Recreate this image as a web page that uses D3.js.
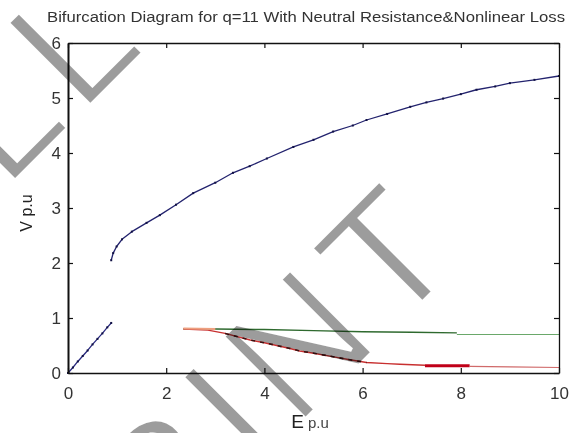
<!DOCTYPE html>
<html>
<head>
<meta charset="utf-8">
<script src="https://cdn.jsdelivr.net/npm/d3@7"></script>
<style>
  html, body { margin: 0; padding: 0; background: #fff; }
  svg { display: block; }
  text { font-family: "Liberation Sans", Arial, sans-serif; }
</style>
</head>
<body>
<svg id="chart" width="583" height="433"></svg>
<script>
// Axis ticks
const xTicks = [0, 2, 4, 6, 8, 10];
const yTicks = [0, 1, 2, 3, 4, 5, 6];

// Upper branch (blue)
const upperE = [0.88, 0.92, 0.99, 1.10, 1.30, 1.60, 1.87, 2.20, 2.55, 3.00, 3.36, 3.70, 4.05, 4.59, 5.00, 5.40, 5.80, 6.08, 6.50, 6.97, 7.30, 7.64, 8.00, 8.32, 8.70, 9.00, 9.50, 10.00];
const upperV = [2.05, 2.18, 2.30, 2.43, 2.57, 2.73, 2.87, 3.06, 3.27, 3.46, 3.64, 3.76, 3.90, 4.11, 4.24, 4.39, 4.50, 4.60, 4.71, 4.84, 4.92, 4.99, 5.07, 5.15, 5.21, 5.27, 5.33, 5.40];

// Lower branch near the origin (blue)
const lowE = [0.00, 0.10, 0.20, 0.30, 0.40, 0.50, 0.60, 0.70, 0.80, 0.88];
const lowV = [0.00, 0.10, 0.21, 0.31, 0.41, 0.52, 0.62, 0.72, 0.83, 0.91];

// Shared start of the low-voltage branches
const startE = [2.35, 3.00];
const startV = [0.81, 0.80];

// Green branch
const greenE = [2.35, 3.00, 4.00, 5.00, 6.00, 7.00, 7.92];
const greenV = [0.80, 0.80, 0.79, 0.77, 0.75, 0.74, 0.73];
const greenTailE = [7.92, 10.00];
const greenTailV = [0.70, 0.70];

// Red branch
const redE = [2.35, 2.85, 3.20, 3.71, 4.00, 4.50, 4.72, 5.00, 5.50, 5.74, 6.08, 6.50, 6.76, 7.27];
const redV = [0.80, 0.78, 0.72, 0.60, 0.55, 0.45, 0.40, 0.36, 0.28, 0.24, 0.19, 0.17, 0.16, 0.14];
const redBarE = [7.27, 8.18];
const redBarV = [0.13, 0.13];
const redTailE = [8.18, 9.00, 10.00];
const redTailV = [0.12, 0.11, 0.10];

const svg = d3.select("#chart");
const x = d3.scaleLinear().domain([0, 10]).range([68, 559]);
const y = d3.scaleLinear().domain([0, 6]).range([373, 43]);

const pts = (es, vs) => es.map((e, i) => [e, vs[i]]);
const line = d3.line().x(d => x(d[0])).y(d => y(d[1]));

// plot background
svg.append("rect").attr("x", x(0)).attr("y", y(6))
  .attr("width", x(10) - x(0)).attr("height", y(0) - y(6)).attr("fill", "#fff");

const plot = svg.append("g");

function drawLine(data, color, width) {
  plot.append("path").datum(data)
    .attr("d", line).attr("fill", "none")
    .attr("stroke", color).attr("stroke-width", width)
    .attr("stroke-linejoin", "round");
}
function drawDots(data, color, size) {
  plot.selectAll(null).data(data).enter().append("rect")
    .attr("x", d => x(d[0]) - size / 2).attr("y", d => y(d[1]) - size / 2)
    .attr("width", size).attr("height", size).attr("fill", color);
}

// blue branches
drawLine(pts(upperE, upperV), "#23236e", 1.3);
drawDots(pts(upperE, upperV), "#111144", 2);
drawLine(pts(lowE, lowV), "#2a2a80", 1.3);
drawDots(pts(lowE, lowV), "#111144", 2);

// green branch
drawLine(pts(greenE, greenV), "#2f6a2f", 1.4);
drawLine(pts(greenTailE, greenTailV), "#6aa86a", 1.2);

// red branch
drawLine(pts(redE, redV), "#c83030", 1.4);
const darkPart = pts(redE, redV).filter(d => d[0] >= 3.0 && d[0] <= 6.2);
plot.append("path").datum(darkPart)
  .attr("d", line).attr("fill", "none")
  .attr("stroke", "#3a1010").attr("stroke-width", 1.6)
  .attr("stroke-dasharray", "4,5");
drawLine(pts(redBarE, redBarV), "#c00018", 3);
drawLine(pts(redTailE, redTailV), "#d06a6a", 1.2);

// shared start segment
drawLine(pts(startE, startV), "#eea080", 2);

// axes
const axisColor = "#111";
const fmt = d3.format("d");
function styleAxis(g, showLabels) {
  g.selectAll(".domain").attr("stroke", axisColor).attr("stroke-width", 1.3);
  g.selectAll(".tick line").attr("stroke", axisColor).attr("stroke-width", 1.2);
  g.selectAll(".tick text")
    .attr("fill", "#333")
    .style("font-size", "17px")
    .style("display", showLabels ? null : "none");
}

svg.append("g").attr("transform", `translate(0,${y(0)})`)
  .call(d3.axisBottom(x).tickValues(xTicks).tickFormat(fmt).tickSizeInner(-5).tickSizeOuter(0).tickPadding(14))
  .call(g => styleAxis(g, true));
svg.append("g").attr("transform", `translate(0,${y(6)})`)
  .call(d3.axisTop(x).tickValues(xTicks).tickSizeInner(-5).tickSizeOuter(0))
  .call(g => styleAxis(g, false));
svg.append("g").attr("transform", `translate(${x(0)},0)`)
  .call(d3.axisLeft(y).tickValues(yTicks).tickFormat(fmt).tickSizeInner(-5).tickSizeOuter(0).tickPadding(7))
  .call(g => styleAxis(g, true))
  .call(g => g.select(".domain").attr("stroke-width", 2));
svg.append("g").attr("transform", `translate(${x(10)},0)`)
  .call(d3.axisRight(y).tickValues(yTicks).tickSizeInner(-5).tickSizeOuter(0))
  .call(g => styleAxis(g, false));

// title and axis labels
svg.append("text")
  .attr("x", 306).attr("y", 22)
  .attr("text-anchor", "middle")
  .attr("textLength", 518).attr("lengthAdjust", "spacingAndGlyphs")
  .attr("fill", "#333").style("font-size", "14px")
  .text("Bifurcation Diagram for q=11 With Neutral Resistance&Nonlinear Loss");

const xl = svg.append("text").attr("x", 310).attr("y", 428)
  .attr("text-anchor", "middle").attr("fill", "#222");
xl.append("tspan").style("font-size", "19px").text("E");
xl.append("tspan").style("font-size", "15px").attr("fill", "#444").text(" p.u");

svg.append("text")
  .attr("transform", "translate(32,213) rotate(-90)")
  .attr("text-anchor", "middle").attr("fill", "#222")
  .style("font-size", "16px")
  .text("V p.u");

// diagonal watermark (white edge trims the glyph strokes)
const wm = svg.append("g")
  .style("mix-blend-mode", "multiply")
  .attr("fill", "#9c9c9c")
  .attr("stroke", "#fff")
  .attr("stroke-width", 4)
  .attr("stroke-linejoin", "miter");
wm.append("text")
  .attr("transform", "translate(-172,368) rotate(-45)")
  .style("font-size", "170px").style("letter-spacing", "12px")
  .text("FULL");
wm.append("text")
  .attr("transform", "translate(70,655) rotate(-45)")
  .style("font-size", "170px").style("letter-spacing", "12px")
  .text("PRINT");
</script>
</body>
</html>
